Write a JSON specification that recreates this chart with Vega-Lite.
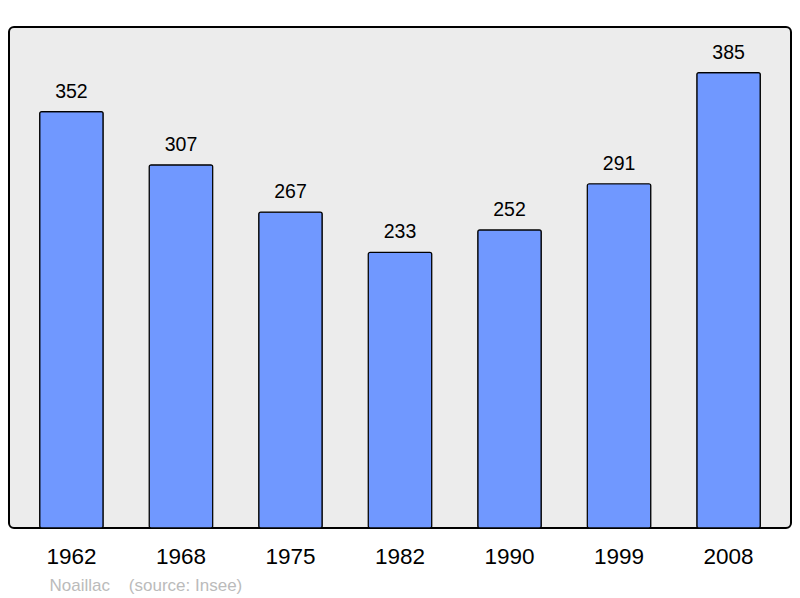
{
  "$schema": "https://vega.github.io/schema/vega-lite/v6.json",
  "width": 782,
  "height": 501,
  "autosize": {"type": "none"},
  "padding": {"left": 9, "top": 27, "right": 9, "bottom": 70},
  "background": "white",
  "view": {"fill": "#ececec", "stroke": "black", "strokeWidth": 2, "cornerRadius": 5},
  "config": {"font": "Liberation Sans"},
  "data": {
    "values": [
      {"year": "1962", "pop": 352},
      {"year": "1968", "pop": 307},
      {"year": "1975", "pop": 267},
      {"year": "1982", "pop": 233},
      {"year": "1990", "pop": 252},
      {"year": "1999", "pop": 291},
      {"year": "2008", "pop": 385}
    ]
  },
  "encoding": {
    "x": {
      "field": "year",
      "type": "ordinal",
      "scale": {"paddingInner": 0.42, "paddingOuter": 0.28},
      "axis": {
        "title": "Noaillac\u00a0\u00a0\u00a0\u00a0(source: Insee)",
        "titleFont": "Liberation Sans",
        "titleFontSize": 17,
        "titleFontWeight": "normal",
        "titleColor": "#bbbbbb",
        "titleAnchor": "start",
        "titleAlign": "left",
        "titleBaseline": "alphabetic",
        "titleX": 40,
        "titleY": 62,
        "labelAngle": 0,
        "labelFontSize": 22.5,
        "labelColor": "black",
        "labelPadding": 17,
        "ticks": false,
        "domain": false
      }
    },
    "y": {
      "field": "pop",
      "type": "quantitative",
      "scale": {"domain": [0, 423.5], "nice": false, "zero": true},
      "axis": null
    }
  },
  "layer": [
    {
      "mark": {"type": "bar", "fill": "#7098ff", "stroke": "black", "strokeWidth": 1.2, "cornerRadius": 2}
    },
    {
      "mark": {"type": "text", "baseline": "alphabetic", "dy": -14, "fontSize": 19.5, "color": "black"},
      "encoding": {"text": {"field": "pop", "type": "quantitative"}}
    }
  ]
}
